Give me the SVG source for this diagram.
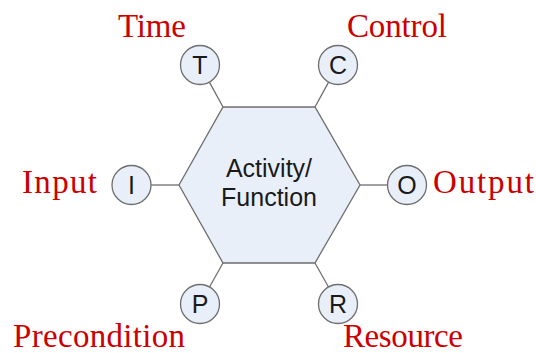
<svg xmlns="http://www.w3.org/2000/svg" width="536" height="353" viewBox="0 0 536 353">
<style>
.shape{fill:#e9eff9;stroke:#6e6e6e;stroke-width:1.3}
.conn{stroke:#6e6e6e;stroke-width:1.3;fill:none}
.sans{font-family:"Liberation Sans",Arial,sans-serif;fill:#1a1a1a;text-anchor:middle}
.ltr{font-size:25px}
.lbl{font-family:"Liberation Serif","Times New Roman",serif;font-size:33px;fill:#cc0000}
</style>
<rect width="536" height="353" fill="#ffffff"/>
<g id="connectors">
<line class="conn" x1="223" y1="107" x2="209.4" y2="82.1"/>
<line class="conn" x1="315" y1="107" x2="328.6" y2="82.1"/>
<line class="conn" x1="223" y1="263" x2="209.5" y2="287"/>
<line class="conn" x1="315" y1="263" x2="328.5" y2="287"/>
<line class="conn" x1="179" y1="185" x2="151" y2="185"/>
<line class="conn" x1="360" y1="185" x2="387.5" y2="185"/>
</g>
<g id="activity">
<polygon class="shape" points="223,107 315,107 360,185 315,263 223,263 179,185"/>
<text class="sans" x="269" y="177" font-size="25">Activity/</text>
<text class="sans" x="269" y="206" font-size="25">Function</text>
</g>
<g id="time">
<circle class="shape" cx="200" cy="65" r="19.5"/>
<text class="sans ltr" x="200" y="74">T</text>
<text class="lbl" x="118" y="37" textLength="68">Time</text>
</g>
<g id="control">
<circle class="shape" cx="338" cy="65" r="19.5"/>
<text class="sans ltr" x="338" y="74">C</text>
<text class="lbl" x="347" y="37" textLength="100">Control</text>
</g>
<g id="input">
<circle class="shape" cx="131.5" cy="185" r="19.5"/>
<text class="sans ltr" x="131.5" y="194">I</text>
<text class="lbl" x="22" y="193" textLength="75">Input</text>
</g>
<g id="output">
<circle class="shape" cx="407" cy="185" r="19.5"/>
<text class="sans ltr" x="407" y="194">O</text>
<text class="lbl" x="433" y="193" textLength="101">Output</text>
</g>
<g id="precondition">
<circle class="shape" cx="200" cy="304" r="19.5"/>
<text class="sans ltr" x="200" y="313">P</text>
<text class="lbl" x="13" y="347" textLength="172">Precondition</text>
</g>
<g id="resource">
<circle class="shape" cx="338" cy="304" r="19.5"/>
<text class="sans ltr" x="338" y="313">R</text>
<text class="lbl" x="343" y="347" textLength="120">Resource</text>
</g>
</svg>
